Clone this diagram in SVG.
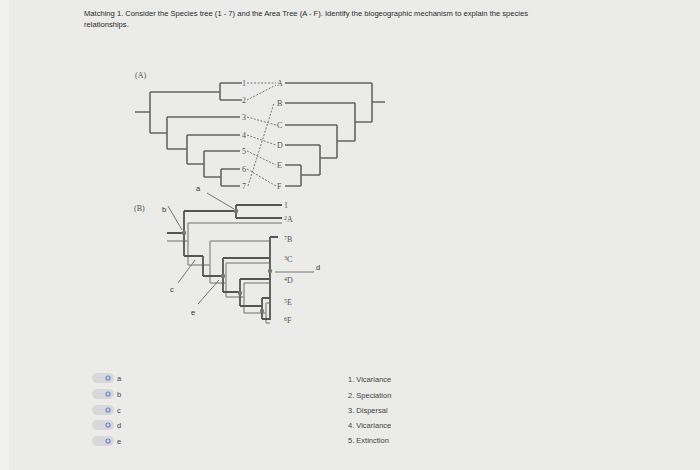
<svg xmlns="http://www.w3.org/2000/svg" width="700" height="470" viewBox="0 0 700 470">
<style>
text{font-family:"Liberation Sans",Arial,sans-serif;fill:#2a2a2a}
.h{font-size:7.6px}
.s{font-family:"Liberation Serif",serif;font-size:8px;fill:#555}
.t{fill:none;stroke:#666;stroke-width:1.6}
.dk{fill:none;stroke:#555;stroke-width:1.8}
.lt{fill:none;stroke:#999;stroke-width:1.5}
.ds{fill:none;stroke:#777;stroke-width:1;stroke-dasharray:2 1.5}
.p{fill:#d8d8da}
.l{font-size:7.5px;fill:#444}
.pt{stroke:#777;stroke-width:1}
.lb{font-size:7.5px;fill:#333}
</style>
<rect width="700" height="470" fill="#ebebea"/>
<rect width="9" height="470" fill="#f0f0ef"/>
<text class="h" x="84" y="16">Matching 1. Consider the Species tree (1 - 7) and the Area Tree (A - F). Identify the biogeographic mechanism to explain the species</text>
<text class="h" x="84" y="27">relationships.</text>
<g id="treeA">
<text class="s" x="135" y="78">(A)</text>
<path class="t" d="M135,112H150M150,92V133M150,92H220M220,83V100M220,83H242M220,100H242M150,133H167M167,117V149M167,117H240M167,149H187M187,135V164M187,135H240M187,164H204M204,151V177M204,151H240M204,177H221M221,169V186M221,169H240M221,186H240"/>
<path class="t" d="M285,83H372M372,83V122M372,102H385M285,103H355M355,103V141M355,122H372M285,125H337M337,125V158M337,141H355M285,145H320M320,145V175M320,158H337M285,165H301M301,165V186M301,175H320M285,186H301"/>
<text class="s" x="242" y="86">1</text><text class="s" x="242" y="103">2</text><text class="s" x="242" y="120">3</text><text class="s" x="242" y="138">4</text><text class="s" x="242" y="154">5</text><text class="s" x="242" y="172">6</text><text class="s" x="242" y="189">7</text>
<text class="s" x="277" y="86">A</text><text class="s" x="277" y="106">B</text><text class="s" x="277" y="128">C</text><text class="s" x="277" y="148">D</text><text class="s" x="277" y="168">E</text><text class="s" x="277" y="189">F</text>
<path class="ds" d="M247,83H276M247,100L276,85M247,117L276,125M247,135L276,145M247,151L276,165M247,169L276,186M248,186L274,103"/>
</g>
<g id="treeB">
<text class="s" x="134" y="211">(B)</text>
<path class="lt" d="M167,241H188M188,223V265M188,223H282M188,265H210M210,241V283M210,241H270M210,283H226M226,263V297M226,263H270M226,297H244M244,283V313M244,283H270M244,313H266M266,303V323M266,303H270M266,323H270"/>
<path class="dk" d="M167,233H184M184,211V256M184,211H236M236,205V218M236,205H282M236,218H282M184,256H203M203,256V276M203,276H223M223,258V292M223,258H270M223,292H240M240,279V306M240,279H270M240,306H262M262,298V319M262,298H270M262,319H270M270,237V320M270,237H278"/>
<g fill="#777"><circle cx="184" cy="233" r="2.2"/><circle cx="236" cy="211" r="2.2"/><circle cx="223" cy="276" r="2.2"/><circle cx="240" cy="293" r="2.2"/><circle cx="262" cy="311" r="2.2"/><circle cx="270" cy="271" r="2.2"/></g>
<text class="s" x="284" y="208">1</text>
<text class="s" x="284" y="222"><tspan font-size="6" dy="-2">2</tspan><tspan dy="2">A</tspan></text>
<text class="s" x="284" y="242"><tspan font-size="6" dy="-2">7</tspan><tspan dy="2">B</tspan></text>
<text class="s" x="284" y="262"><tspan font-size="6" dy="-2">3</tspan><tspan dy="2">C</tspan></text>
<text class="s" x="284" y="283"><tspan font-size="6" dy="-2">4</tspan><tspan dy="2">D</tspan></text>
<text class="s" x="284" y="305"><tspan font-size="6" dy="-2">5</tspan><tspan dy="2">E</tspan></text>
<text class="s" x="284" y="323"><tspan font-size="6" dy="-2">6</tspan><tspan dy="2">F</tspan></text>
</g>
<g id="labels">
<path class="pt" d="M207,193L234,209M168,206L182,230M178,283L195,260M198,304L219,280M275,272H314"/>
<text class="lb" x="196" y="191">a</text>
<text class="lb" x="162" y="212">b</text>
<text class="lb" x="170" y="292">c</text>
<text class="lb" x="316" y="270">d</text>
<text class="lb" x="191" y="315">e</text>
</g>
<g id="options">
<rect class="p" x="92" y="373" width="22" height="10" rx="5"/><rect class="p" x="92" y="389" width="22" height="10" rx="5"/><rect class="p" x="92" y="405" width="22" height="10" rx="5"/><rect class="p" x="92" y="420" width="22" height="10" rx="5"/><rect class="p" x="92" y="436" width="22" height="10" rx="5"/>
<g fill="none" stroke="#6d86c4" stroke-width="1.2"><circle cx="108" cy="378" r="2"/><circle cx="108" cy="394" r="2"/><circle cx="108" cy="410" r="2"/><circle cx="108" cy="425" r="2"/><circle cx="108" cy="441" r="2"/></g>
<text class="l" x="117" y="381">a</text><text class="l" x="117" y="397">b</text><text class="l" x="117" y="413">c</text><text class="l" x="117" y="428">d</text><text class="l" x="117" y="444">e</text>
<text class="l" x="348" y="382">1. Vicariance</text><text class="l" x="348" y="398">2. Speciation</text><text class="l" x="348" y="413">3. Dispersal</text><text class="l" x="348" y="428">4. Vicariance</text><text class="l" x="348" y="443">5. Extinction</text>
</g>
</svg>
